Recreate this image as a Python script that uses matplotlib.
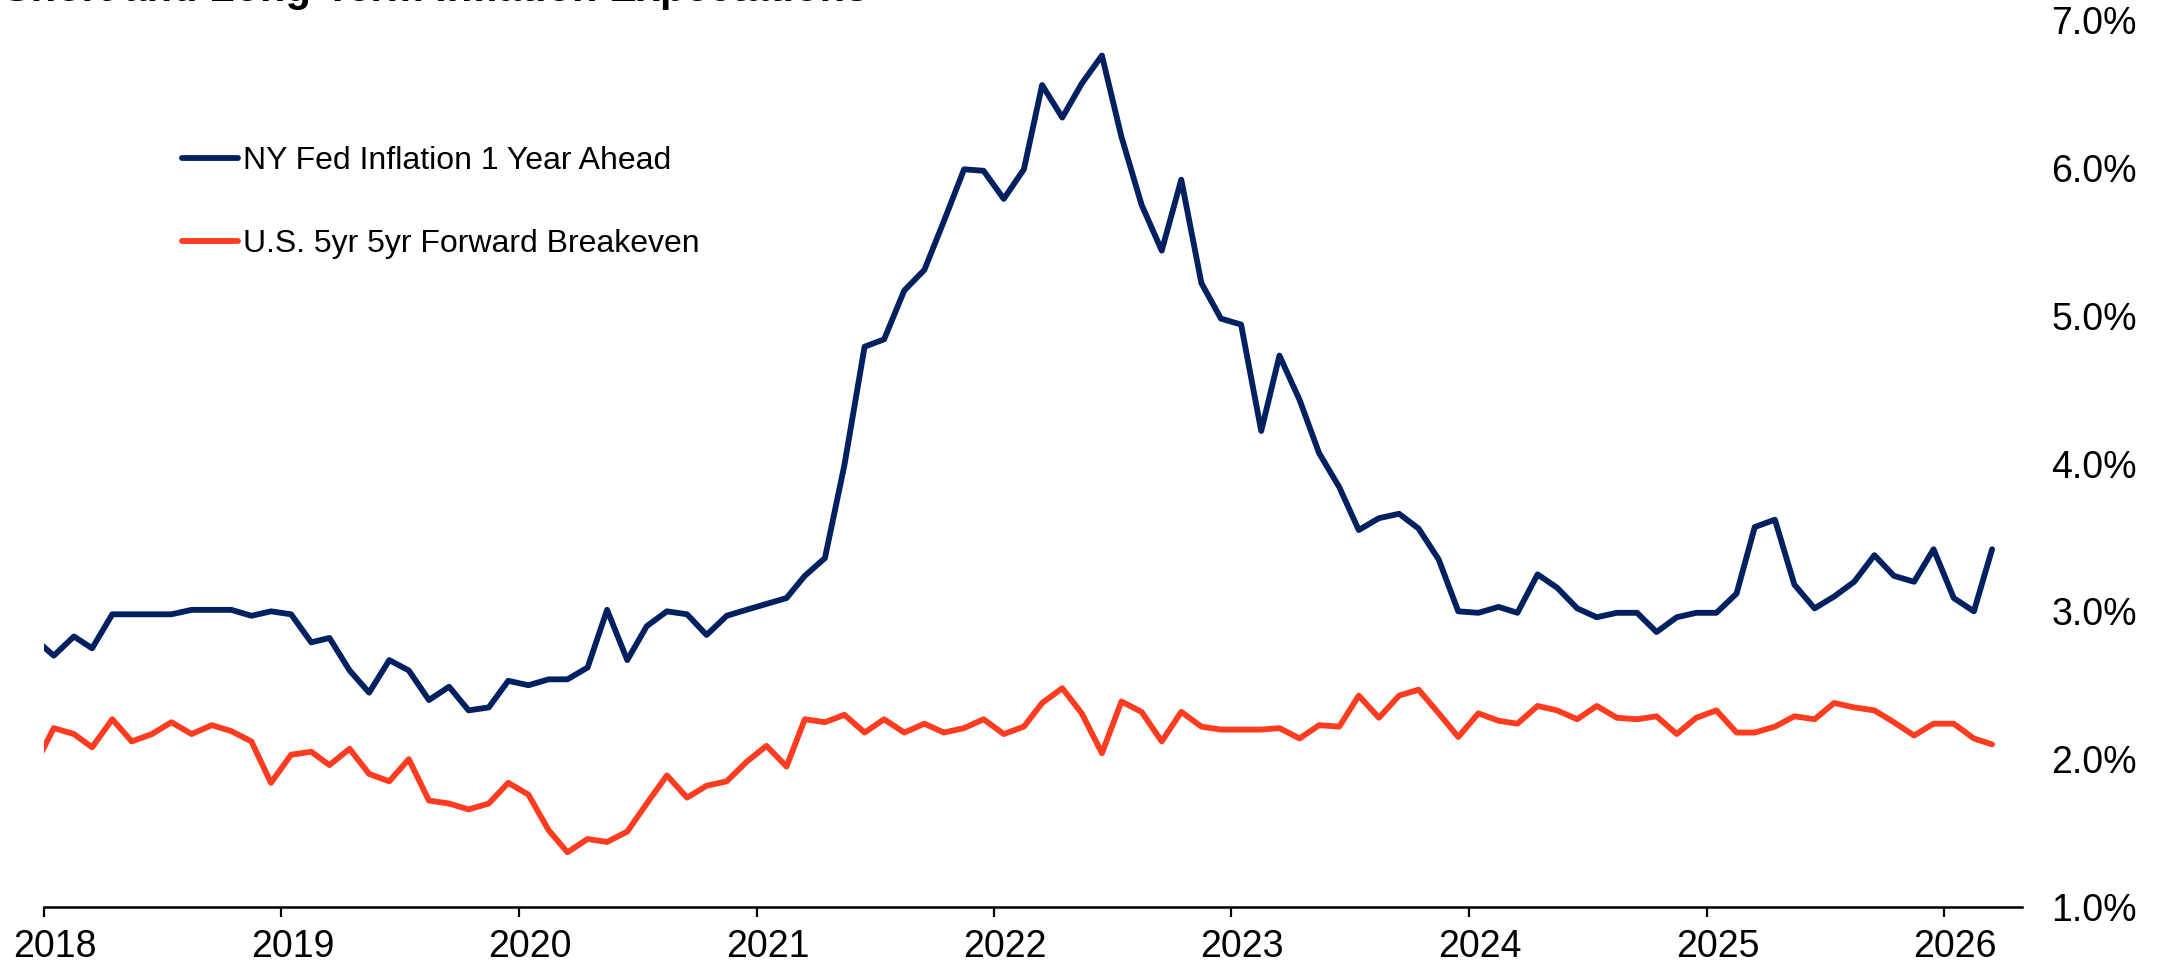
import numpy as np
import pandas as pd
import matplotlib
matplotlib.use("Agg")
import matplotlib.pyplot as plt
import matplotlib.dates as mdates
import matplotlib.transforms as mtransforms

plt.rcParams['font.family'] = ['Liberation Sans', 'DejaVu Sans']

title = "Short and Long-Term Inflation Expectations"
label_ny = "NY Fed Inflation 1 Year Ahead"
label_be = "U.S. 5yr 5yr Forward Breakeven"

# monthly, Dec 2017 .. Mar 2026 (Dec 2017 sits just left of the axis and gets clipped)
months = pd.date_range("2017-12-01", "2026-03-01", freq="MS") + pd.Timedelta(days=15)

ny_fed_1y = [
    2.82,
    2.70, 2.83, 2.75, 2.98, 2.98, 2.98, 2.98, 3.01, 3.01, 3.01, 2.97, 3.00,   # 2018
    2.98, 2.79, 2.82, 2.60, 2.45, 2.67, 2.60, 2.40, 2.49, 2.33, 2.35, 2.53,   # 2019
    2.50, 2.54, 2.54, 2.62, 3.01, 2.67, 2.90, 3.00, 2.98, 2.84, 2.97, 3.01,   # 2020
    3.05, 3.09, 3.24, 3.36, 3.99, 4.79, 4.84, 5.17, 5.31, 5.64, 5.99, 5.98,   # 2021
    5.79, 5.99, 6.56, 6.34, 6.57, 6.76, 6.21, 5.75, 5.44, 5.92, 5.22, 4.98,   # 2022
    4.94, 4.22, 4.73, 4.43, 4.07, 3.84, 3.55, 3.63, 3.66, 3.56, 3.35, 3.00,   # 2023
    2.99, 3.03, 2.99, 3.25, 3.16, 3.02, 2.96, 2.99, 2.99, 2.86, 2.96, 2.99,   # 2024
    2.99, 3.12, 3.57, 3.62, 3.18, 3.02, 3.10, 3.20, 3.38, 3.24, 3.20, 3.42,   # 2025
    3.09, 3.00, 3.42,                                                         # 2026
]

breakeven_5y5y = [
    1.94,
    2.21, 2.17, 2.08, 2.27, 2.12, 2.17, 2.25, 2.17, 2.23, 2.19, 2.12, 1.84,   # 2018
    2.03, 2.05, 1.96, 2.07, 1.90, 1.85, 2.00, 1.72, 1.70, 1.66, 1.70, 1.84,   # 2019
    1.76, 1.52, 1.37, 1.46, 1.44, 1.51, 1.70, 1.89, 1.74, 1.82, 1.85, 1.98,   # 2020
    2.09, 1.95, 2.27, 2.25, 2.30, 2.18, 2.27, 2.18, 2.24, 2.18, 2.21, 2.27,   # 2021
    2.17, 2.22, 2.38, 2.48, 2.31, 2.04, 2.39, 2.32, 2.12, 2.32, 2.22, 2.20,   # 2022
    2.20, 2.20, 2.21, 2.14, 2.23, 2.22, 2.43, 2.28, 2.43, 2.47, 2.31, 2.15,   # 2023
    2.31, 2.26, 2.24, 2.36, 2.33, 2.27, 2.36, 2.28, 2.27, 2.29, 2.17, 2.28,   # 2024
    2.33, 2.18, 2.18, 2.22, 2.29, 2.27, 2.38, 2.35, 2.33, 2.25, 2.16, 2.24,   # 2025
    2.24, 2.14, 2.10,                                                         # 2026
]

y_ticks = [1, 2, 3, 4, 5, 6, 7]

navy = '#002060'
red = '#FF3B20'

W, H = 2159, 969
fig = plt.figure(figsize=(W / 100, H / 100), dpi=100)
ax = fig.add_axes([44 / W, 1 - 907 / H, (2022 - 44) / W, (907 - 20) / H])

ax.plot(months, ny_fed_1y, color=navy, lw=4.2, label=label_ny,
        solid_joinstyle='round', solid_capstyle='round')
ax.plot(months, breakeven_5y5y, color=red, lw=4.2, label=label_be,
        solid_joinstyle='round', solid_capstyle='round')

ax.set_xlim(pd.Timestamp("2018-01-01"), pd.Timestamp("2026-05-01"))
ax.set_ylim(1, 7)

ax.xaxis.set_major_locator(mdates.YearLocator())
ax.xaxis.set_major_formatter(mdates.DateFormatter('%Y'))
ax.tick_params(axis='x', direction='out', length=7, width=1.6, pad=9,
               labelsize=27, colors='black')
shift = mtransforms.ScaledTranslation(11 / 100, 0, fig.dpi_scale_trans)
for lab in ax.get_xticklabels():
    lab.set_transform(lab.get_transform() + shift)

ax.yaxis.tick_right()
ax.set_yticks(y_ticks)
ax.set_yticklabels([f"{v:.1f}%" for v in y_ticks])
ax.tick_params(axis='y', length=0, pad=21, labelsize=27, colors='black')

for side in ['top', 'left', 'right']:
    ax.spines[side].set_visible(False)
ax.spines['bottom'].set_linewidth(1.8)

ax.legend(loc='upper left', bbox_to_anchor=(182 / W, 1 - 146 / H),
          bbox_transform=fig.transFigure, frameon=False, fontsize=23,
          handlelength=1.75, handletextpad=0.16, labelspacing=1.65,
          borderpad=0, borderaxespad=0)

# the title runs off the top edge in the reference as well
fig.text(3 / W, 1 - 1 / H, title, fontsize=30, fontweight='bold',
         ha='left', va='baseline')

fig.savefig('out.png', dpi=100)
